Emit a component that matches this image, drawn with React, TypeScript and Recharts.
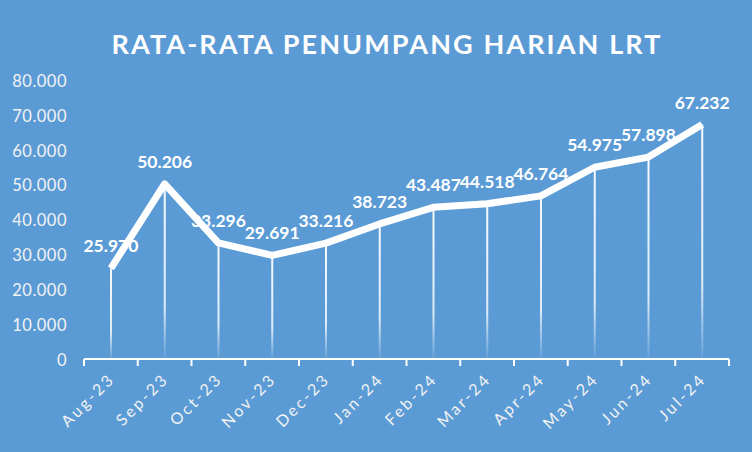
import { ComposedChart, Line, Bar, XAxis, YAxis, LabelList } from 'recharts';

const months = ['Aug-23', 'Sep-23', 'Oct-23', 'Nov-23', 'Dec-23', 'Jan-24', 'Feb-24', 'Mar-24', 'Apr-24', 'May-24', 'Jun-24', 'Jul-24'];
const passengers = [25970, 50206, 33296, 29691, 33216, 38723, 43487, 44518, 46764, 54975, 57898, 67232];
const yTicks = [0, 10000, 20000, 30000, 40000, 50000, 60000, 70000, 80000];

const data = months.map((month, i) => ({ month, value: passengers[i] }));

const W = 752;
const H = 452;
const margin = { top: 80, right: 23, bottom: 23, left: 24 };
const yAxisWidth = 60;
const plotWidth = W - margin.left - margin.right - yAxisWidth;
const band = plotWidth / months.length;
const font = "Lato, 'Open Sans', sans-serif";

const fmt = (v: number) => v.toLocaleString('de-DE');

const MonthTick = (props: any) => {
  const { x, y, payload, index } = props;
  const half = band / 2;
  const tx = x + 5;
  const ty = y + 13;
  return (
    <g>
      <line x1={x - half} x2={x - half} y1={y - 8} y2={y - 1} stroke="#ffffff" strokeWidth={2} />
      {index === months.length - 1 && (
        <line x1={x + half} x2={x + half} y1={y - 8} y2={y - 1} stroke="#ffffff" strokeWidth={2} />
      )}
      <text
        x={tx}
        y={ty}
        textAnchor="end"
        fill="#F2F2F2"
        fontSize={16}
        letterSpacing={2.6}
        fontFamily={font}
        transform={`rotate(-45, ${tx}, ${ty})`}
      >
        {payload.value}
      </text>
    </g>
  );
};

const App = () => {
  return (
    <div style={{ position: 'fixed', left: 0, top: 0, width: W, height: H, background: '#5B9BD5' }}>
      <div
        style={{
          position: 'absolute',
          left: 11,
          top: 27,
          width: W,
          textAlign: 'center',
          color: '#ffffff',
          fontFamily: font,
          fontWeight: 700,
          fontSize: 27,
          letterSpacing: 2.1,
          lineHeight: '34px',
        }}
      >
        RATA-RATA PENUMPANG HARIAN LRT
      </div>
      <ComposedChart width={W} height={H} data={data} margin={margin} style={{ position: 'absolute', left: 0, top: 0 }}>
        <defs>
          <linearGradient id="dropFade" x1="0" y1="0" x2="0" y2="1">
            <stop offset="0%" stopColor="#ffffff" stopOpacity={0.95} />
            <stop offset="70%" stopColor="#ffffff" stopOpacity={0.8} />
            <stop offset="100%" stopColor="#ffffff" stopOpacity={0.05} />
          </linearGradient>
        </defs>
        <XAxis
          dataKey="month"
          interval={0}
          height={70}
          axisLine={{ stroke: '#ffffff', strokeWidth: 2 }}
          tickLine={false}
          tick={<MonthTick />}
        />
        <YAxis
          domain={[0, 80000]}
          ticks={yTicks}
          width={yAxisWidth}
          axisLine={false}
          tickLine={false}
          tickFormatter={fmt}
          tick={{ fill: '#F2F2F2', fontSize: 16.5, letterSpacing: 0.5, fontFamily: font, dx: -9, dy: 1 }}
        />
        <Bar dataKey="value" barSize={2} fill="url(#dropFade)" isAnimationActive={false} />
        <Line
          dataKey="value"
          stroke="#ffffff"
          strokeWidth={7}
          strokeLinejoin="round"
          dot={false}
          activeDot={false}
          isAnimationActive={false}
        >
          <LabelList
            dataKey="value"
            position="top"
            offset={16}
            formatter={(v: any) => fmt(Number(v))}
            fill="#ffffff"
            fontSize={17.5}
            fontWeight={700}
            fontFamily={font}
          />
        </Line>
      </ComposedChart>
    </div>
  );
};

export default App;
